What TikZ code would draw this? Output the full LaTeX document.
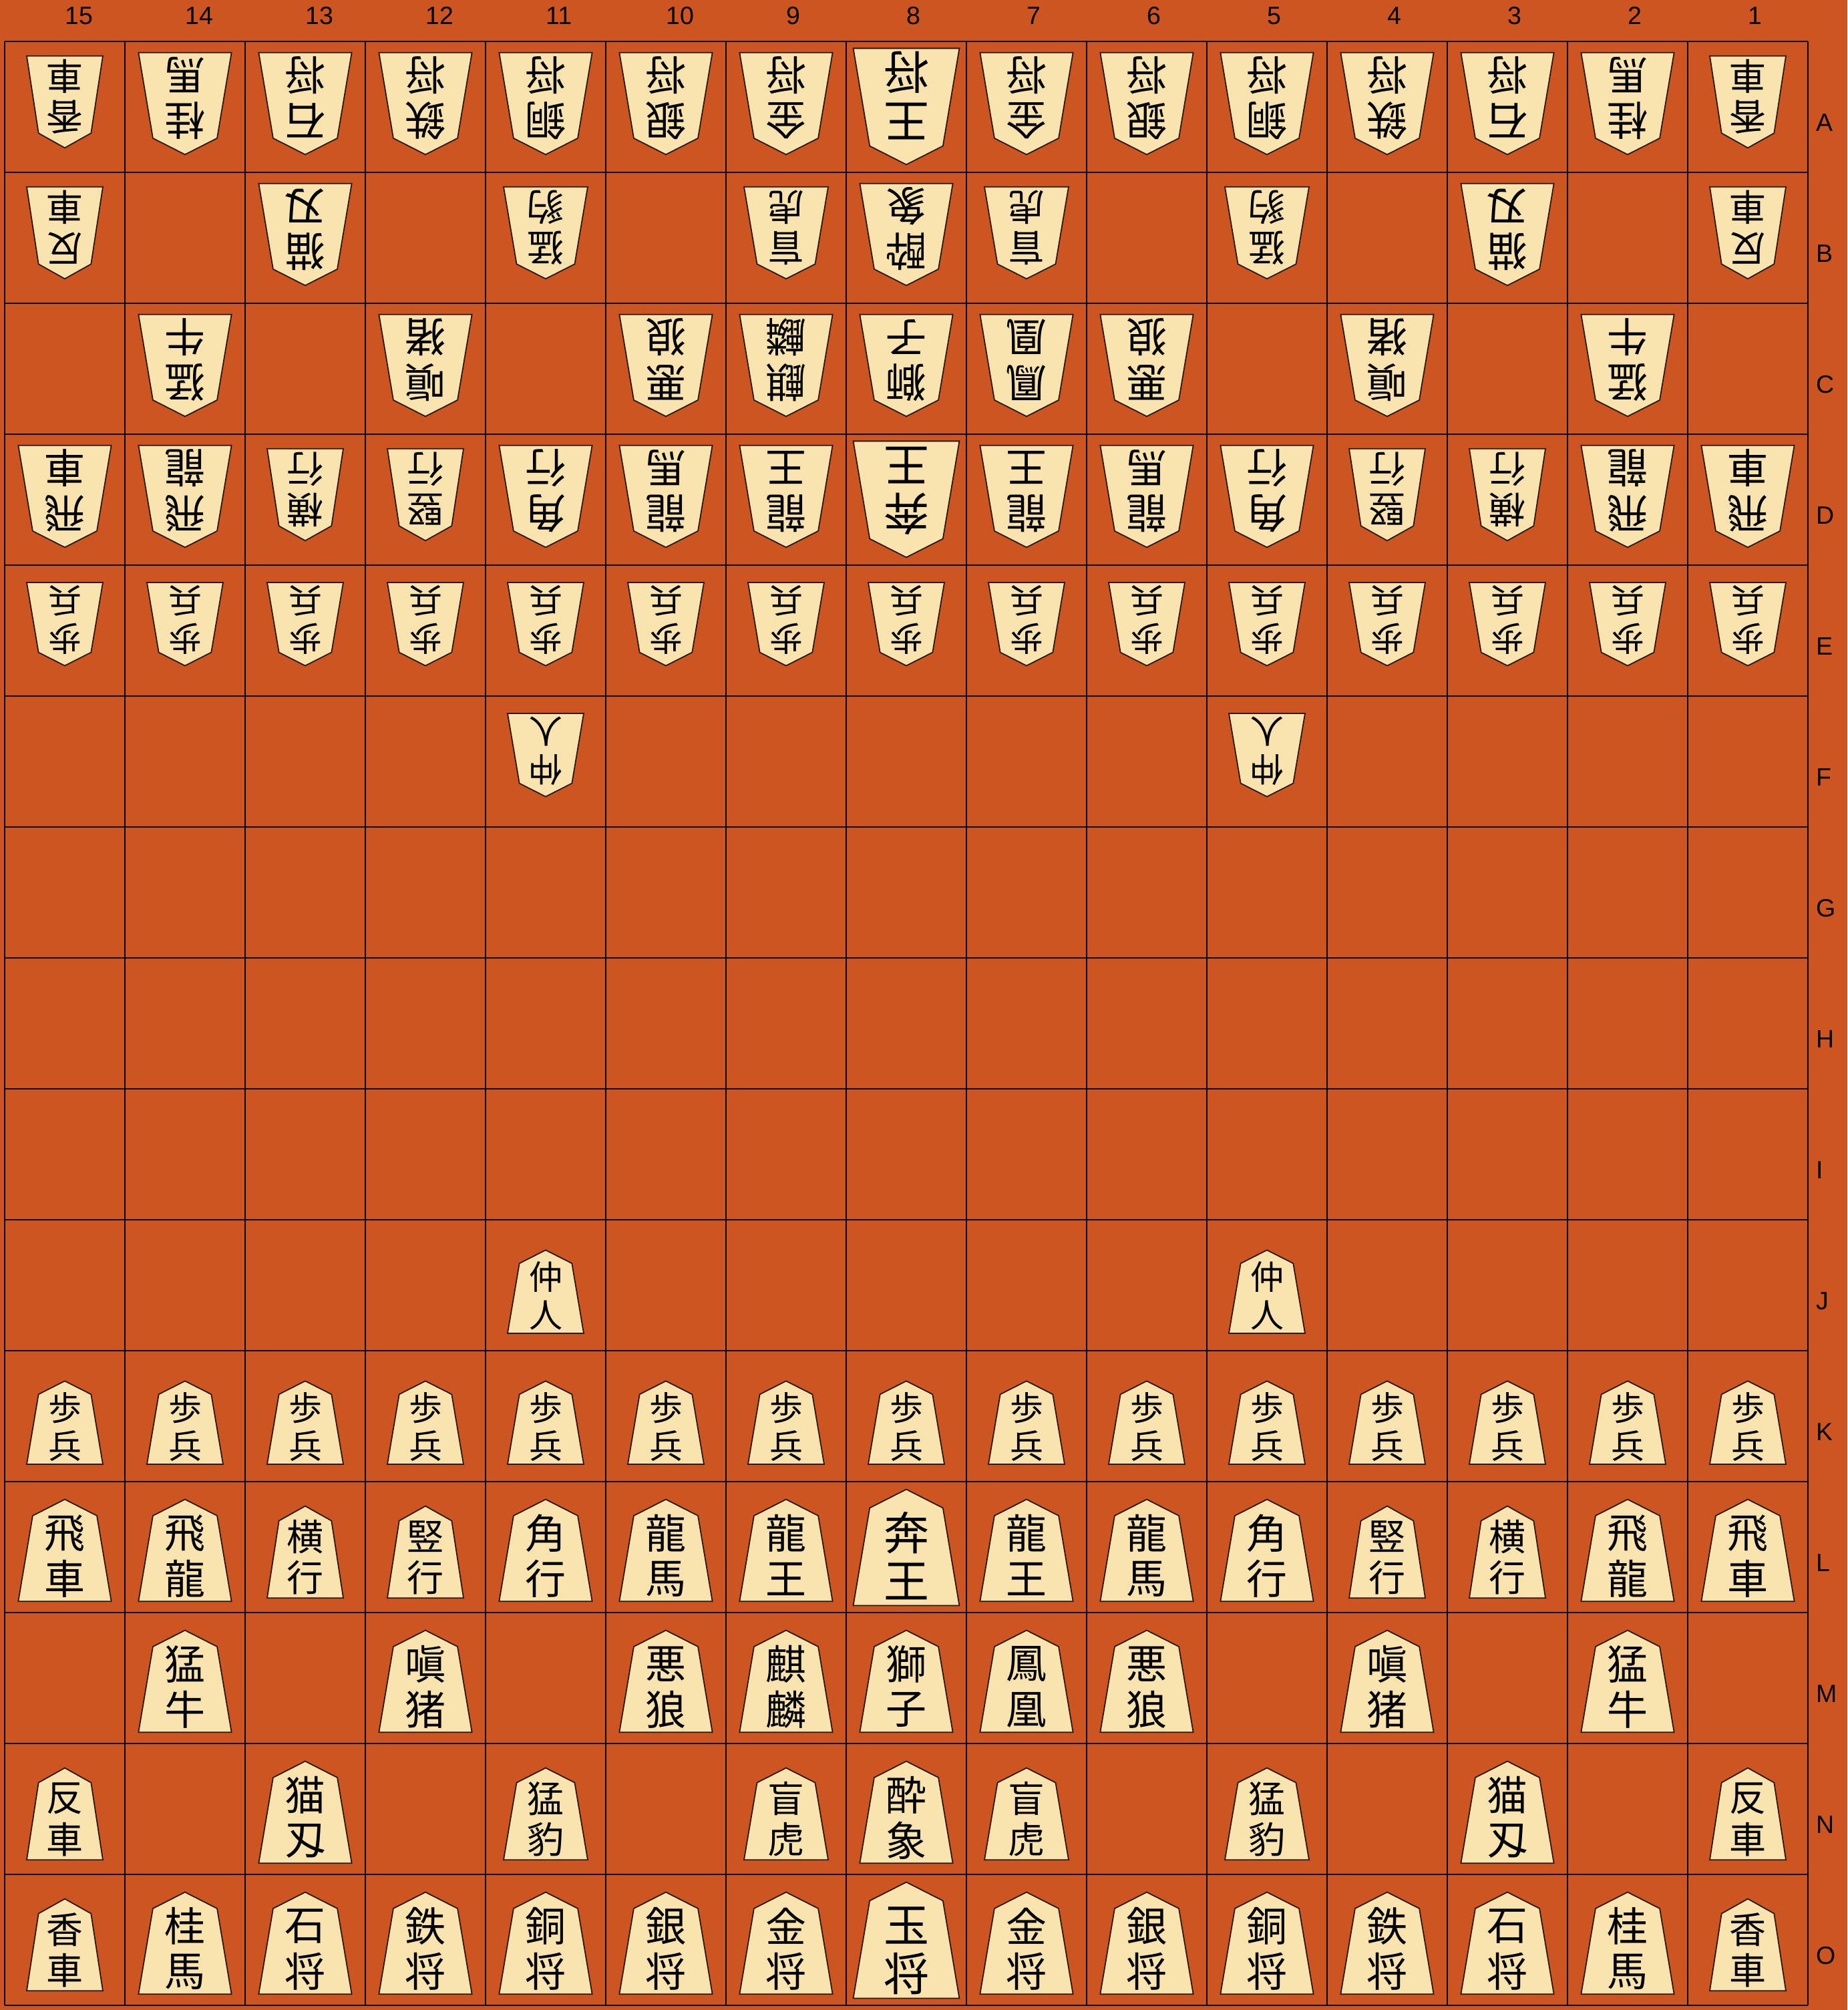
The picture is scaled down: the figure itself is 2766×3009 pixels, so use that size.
\documentclass[tikz,border=0pt]{standalone}
\usepackage{fontspec}
\usepackage{tikz}
\newfontfamily\komafont{Noto Sans CJK JP}
\newfontfamily\labelfont{Liberation Sans}
\definecolor{boardorange}{HTML}{CC5522}
\definecolor{komacream}{HTML}{F9E3AF}
\definecolor{komaedge}{HTML}{2A1A0E}

\newcommand{\komatype}[7]{%
  \expandafter\def\csname komaw#1\endcsname{#2}%
  \expandafter\def\csname komah#1\endcsname{#3}%
  \expandafter\def\csname komam#1\endcsname{#4}%
  \expandafter\def\csname komaf#1\endcsname{#5}%
  \expandafter\def\csname komaua#1\endcsname{#6}%
  \expandafter\def\csname komaub#1\endcsname{#7}}
\komatype{P}{114}{124.6}{26}{50}{0.675}{0.22}
\komatype{S}{114}{137.7}{21.7}{55}{0.665}{0.22}
\komatype{M}{126}{137.7}{21.7}{55}{0.665}{0.22}
\komatype{L}{139.3}{152.7}{16.7}{61}{0.668}{0.221}
\komatype{K}{158.9}{174}{10.4}{68}{0.628}{0.21}

\newcommand{\koma}[6]{%
  \pgfmathsetmacro\kmx{7+180*(15-#2)+90}%
  \pgfmathsetmacro\kmy{2947-196*(#3-1)-98}%
  \edef\kmw{\csname komaw#4\endcsname}%
  \edef\kmh{\csname komah#4\endcsname}%
  \edef\kmf{\csname komaf#4\endcsname}%
  \edef\kmua{\csname komaua#4\endcsname}%
  \edef\kmub{\csname komaub#4\endcsname}%
  \pgfmathsetmacro\kmb{-98+\csname komam#4\endcsname}%
  \begin{scope}[shift={(\kmx,\kmy)},rotate=#1]
    \draw[komashape] ({-\kmw/2},\kmb) -- ({\kmw/2},\kmb) -- ({0.345*\kmw},{\kmb+0.84*\kmh})
      -- (0,{\kmb+\kmh}) -- ({-0.345*\kmw},{\kmb+0.84*\kmh}) -- cycle;
    \node[komatext,rotate=#1,font=\komafont\fontsize{\kmf pt}{\kmf pt}\selectfont] (k#2-#3a) at (0,{\kmb+\kmua*\kmh}) {#5};
    \node[komatext,rotate=#1,font=\komafont\fontsize{\kmf pt}{\kmf pt}\selectfont] (k#2-#3b) at (0,{\kmb+\kmub*\kmh}) {#6};
  \end{scope}}

\tikzset{
  gridline/.style={draw=black,line width=1.3pt},
  komashape/.style={fill=komacream,draw=komaedge,line width=1.8pt,line join=miter},
  komatext/.style={inner sep=0pt,text=black},
  collabel/.style={font=\labelfont\fontsize{37.5pt}{40pt}\selectfont,anchor=base west,inner sep=0pt},
  rowlabel/.style={font=\labelfont\fontsize{37.5pt}{40pt}\selectfont,anchor=base west,inner sep=0pt}
}

\begin{document}
\begin{tikzpicture}[x=1pt,y=1pt]
\useasboundingbox (0,0) rectangle (2766,3009);
\fill[boardorange] (0,0) rectangle (2766,3009);
\draw[gridline,shift={(7,7)}] (0,0) grid[xstep=180,ystep=196] (2700,2940);

\foreach \c in {15,...,1}
  \node[collabel] (col\c) at ({7+180*(15-\c)+90},2972.3) {\c};
\foreach \r/\l in {1/A,2/B,3/C,4/D,5/E,6/F,7/G,8/H,9/I,10/J,11/K,12/L,13/M,14/N,15/O}
  \node[rowlabel] (row\l) at (2719,{2947-196*(\r-1)-98-36.4}) {\l};

\foreach \c/\t/\a/\b in {15/S/香/車,14/L/桂/馬,13/L/石/将,12/L/鉄/将,11/L/銅/将,10/L/銀/将,9/L/金/将,
    7/L/金/将,6/L/銀/将,5/L/銅/将,4/L/鉄/将,3/L/石/将,2/L/桂/馬,1/S/香/車}{
  \koma{180}{\c}{1}{\t}{\a}{\b}
  \koma{0}{\c}{15}{\t}{\a}{\b}
}
\koma{180}{8}{1}{K}{王}{将}
\koma{0}{8}{15}{K}{玉}{将}

\foreach \c/\t/\a/\b in {15/S/反/車,13/L/猫/刄,11/M/猛/豹,9/M/盲/虎,8/L/酔/象,7/M/盲/虎,5/M/猛/豹,3/L/猫/刄,1/S/反/車}{
  \koma{180}{\c}{2}{\t}{\a}{\b}
  \koma{0}{\c}{14}{\t}{\a}{\b}
}
\foreach \c/\t/\a/\b in {14/L/猛/牛,12/L/嗔/猪,10/L/悪/狼,9/L/麒/麟,8/L/獅/子,7/L/鳳/凰,6/L/悪/狼,4/L/嗔/猪,2/L/猛/牛}{
  \koma{180}{\c}{3}{\t}{\a}{\b}
  \koma{0}{\c}{13}{\t}{\a}{\b}
}
\foreach \c/\t/\a/\b in {15/L/飛/車,14/L/飛/龍,13/S/横/行,12/S/竪/行,11/L/角/行,10/L/龍/馬,9/L/龍/王,8/K/奔/王,
    7/L/龍/王,6/L/龍/馬,5/L/角/行,4/S/竪/行,3/S/横/行,2/L/飛/龍,1/L/飛/車}{
  \koma{180}{\c}{4}{\t}{\a}{\b}
  \koma{0}{\c}{12}{\t}{\a}{\b}
}
\foreach \c in {15,...,1}{
  \koma{180}{\c}{5}{P}{歩}{兵}
  \koma{0}{\c}{11}{P}{歩}{兵}
}
\foreach \c in {11,5}{
  \koma{180}{\c}{6}{P}{仲}{人}
  \koma{0}{\c}{10}{P}{仲}{人}
}
\end{tikzpicture}
\end{document}
